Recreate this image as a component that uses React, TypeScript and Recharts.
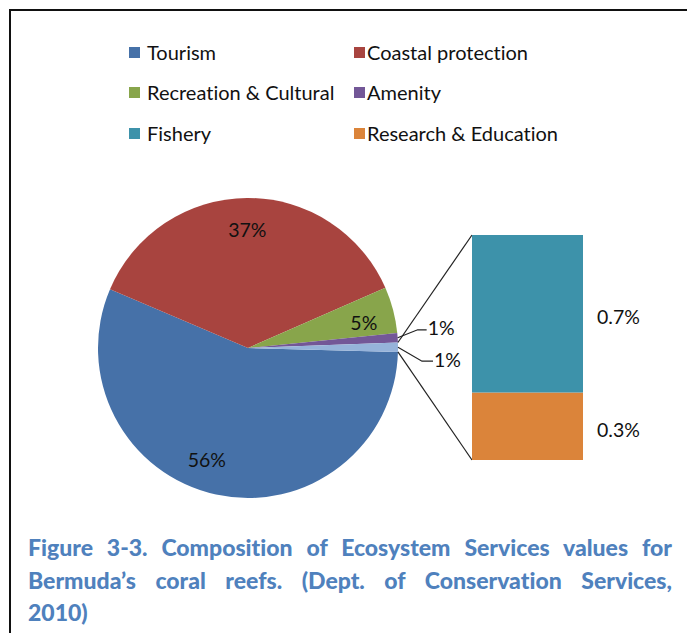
import React from 'react';
import { PieChart, Pie, Cell, BarChart, Bar, XAxis, YAxis, LabelList } from 'recharts';

// ---- data ----
const pieCategories = ['Tourism', 'Coastal protection', 'Recreation & Cultural', 'Amenity', 'Other'];
const pieValues = [56, 37, 5, 1, 1];
const pieColors = ['#4671A8', '#A8443F', '#88A54B', '#735797', '#96B3DA'];

const barCategories = ['Fishery', 'Research & Education'];
const barValues = [0.7, 0.3];
const barColors = ['#3D92AA', '#DB843A'];

const legendNames = ['Tourism', 'Coastal protection', 'Recreation & Cultural', 'Amenity', 'Fishery', 'Research & Education'];
const legendColors = ['#4671A8', '#A8443F', '#88A54B', '#735797', '#3D92AA', '#DB843A'];

const captionLines = [
  'Figure 3-3. Composition of Ecosystem Services values for',
  'Bermuda\u2019s coral reefs. (Dept. of Conservation Services,',
  '2010)',
];

// ---- layout ----
const FONT = 'Lato, "Open Sans", sans-serif';
const PIE = { cx: 248, cy: 348, r: 150, start: -1.5 };
const BAR_BOX = { left: 472, top: 235, width: 111, height: 225, labelSpace: 104 };
const LABEL_NUDGE: Record<string, number> = { Tourism: -8, 'Recreation & Cultural': -2.5 };
const RAD = Math.PI / 180;

const pieData = pieCategories.map((name, i) => ({ name, value: pieValues[i] }));
const barRow: Record<string, any> = { name: 'Other' };
barCategories.forEach((c, i) => (barRow[c] = barValues[i]));
const barData = [barRow];

function renderPieLabel(props: any) {
  const { cx, cy, midAngle, outerRadius, startAngle, endAngle, name, value } = props;
  const pt = (r: number, a: number) => [cx + r * Math.cos(-a * RAD), cy + r * Math.sin(-a * RAD)];
  const txt = `${Math.round(value)}%`;
  const textStyle = { fontFamily: FONT, fontSize: 19.5, fill: '#111' };
  if (name === 'Amenity' || name === 'Other') {
    const [ex, ey] = pt(outerRadius, midAngle);
    const up = name === 'Amenity';
    const bx = ex + (up ? 20 : 24);
    const by = ey + (up ? -8 : 14);
    const hx = bx + (up ? 9 : 11);
    const parts: any[] = [
      <polyline key="l" points={`${ex},${ey} ${bx},${by} ${hx},${by}`} fill="none" stroke="#222" strokeWidth={1.2} />,
      <text key="t" x={hx + 1} y={by - 2} dominantBaseline="central" textAnchor="start" style={textStyle}>{txt}</text>,
    ];
    if (!up) {
      const p1 = pt(outerRadius, startAngle);
      const p2 = pt(outerRadius, endAngle);
      const upper = p1[1] < p2[1] ? p1 : p2;
      const lower = p1[1] < p2[1] ? p2 : p1;
      parts.push(
        <line key="c1" x1={upper[0]} y1={upper[1]} x2={BAR_BOX.left} y2={BAR_BOX.top} stroke="#222" strokeWidth={1.2} />,
        <line key="c2" x1={lower[0]} y1={lower[1]} x2={BAR_BOX.left} y2={BAR_BOX.top + BAR_BOX.height} stroke="#222" strokeWidth={1.2} />
      );
    }
    return <g>{parts}</g>;
  }
  const a = midAngle + (LABEL_NUDGE[name] || 0);
  const [x, y] = pt(outerRadius * 0.79, a);
  return (
    <text x={x} y={y} textAnchor="middle" dominantBaseline="central" style={textStyle}>{txt}</text>
  );
}

function renderBarLabel(props: any) {
  const { x, y, width, height, value } = props;
  return (
    <text x={x + width + 14} y={y + height / 2 + 3} dominantBaseline="central" textAnchor="start"
      style={{ fontFamily: FONT, fontSize: 19.5, fill: '#111' }}>{`${value}%`}</text>
  );
}

const legendRows = [52, 92, 133];
const legendCols = [{ sq: 129, tx: 147 }, { sq: 354, tx: 367 }];

export default function App() {
  return (
    <div style={{ position: 'absolute', left: 0, top: 0, width: 687, height: 633, overflow: 'hidden', background: '#fff', fontVariantLigatures: 'none' }}>
      <div style={{ position: 'absolute', left: 9, top: 9, width: 800, height: 800, borderLeft: '2px solid #111', borderTop: '2px solid #111' }} />

      {legendNames.map((n, i) => {
        const row = Math.floor(i / 2);
        const col = legendCols[i % 2];
        const cy = legendRows[row];
        return (
          <React.Fragment key={n}>
            <div style={{ position: 'absolute', left: col.sq, top: cy - 5, width: 11, height: 11, background: legendColors[i] }} />
            <div style={{ position: 'absolute', left: col.tx, top: cy - 12, height: 24, lineHeight: '24px', fontFamily: FONT, fontSize: 20, color: '#111', whiteSpace: 'nowrap' }}>{n}</div>
          </React.Fragment>
        );
      })}

      <div style={{ position: 'absolute', left: 0, top: 0 }}>
        <PieChart width={687} height={633} margin={{ top: 0, right: 0, bottom: 0, left: 0 }}>
          <Pie
            data={pieData}
            dataKey="value"
            nameKey="name"
            cx={PIE.cx}
            cy={PIE.cy}
            outerRadius={PIE.r}
            startAngle={PIE.start}
            endAngle={PIE.start - 360}
            stroke="none"
            labelLine={false}
            label={renderPieLabel}
            isAnimationActive={false}
          >
            {pieData.map((d, i) => <Cell key={d.name} fill={pieColors[i]} />)}
          </Pie>
        </PieChart>
      </div>

      <div style={{ position: 'absolute', left: BAR_BOX.left, top: BAR_BOX.top }}>
        <BarChart width={BAR_BOX.width + BAR_BOX.labelSpace} height={BAR_BOX.height} data={barData}
          margin={{ top: 0, right: BAR_BOX.labelSpace, bottom: 0, left: 0 }} barCategoryGap={0}>
          <XAxis dataKey="name" hide />
          <YAxis type="number" domain={[0, 1]} hide allowDataOverflow />
          {[1, 0].map((i) => (
            <Bar key={barCategories[i]} dataKey={barCategories[i]} stackId="s" fill={barColors[i]} isAnimationActive={false}>
              <LabelList dataKey={barCategories[i]} content={renderBarLabel} />
            </Bar>
          ))}
        </BarChart>
      </div>

      <div style={{ position: 'absolute', left: 28, top: 531, width: 644, fontFamily: FONT, fontWeight: 900, fontSize: 23, color: '#4F81BD', lineHeight: '32.5px', fontVariantLigatures: 'none' }}>
        {captionLines.map((l, i) => (
          <div key={i} style={{ textAlign: 'justify', textAlignLast: i < captionLines.length - 1 ? 'justify' : 'left', whiteSpace: 'nowrap' }}>{l}</div>
        ))}
      </div>
    </div>
  );
}
